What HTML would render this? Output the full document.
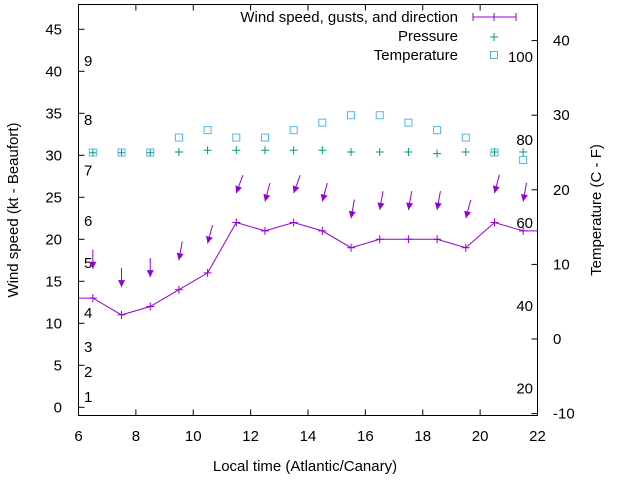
<!DOCTYPE html>
<html><head><meta charset="utf-8"><style>
body{margin:0;background:#fff}
svg text{font-family:"Liberation Sans",sans-serif;font-size:15px;fill:#000}
</style></head><body>
<svg id="chart" width="640" height="480" xmlns="http://www.w3.org/2000/svg">
<rect width="640" height="480" fill="#fff"/>
<g id="axes"></g>
<g id="marks"></g>
<g id="legend">
<text x="458" y="22" text-anchor="end">Wind speed, gusts, and direction</text>
<line x1="473" y1="17" x2="516" y2="17" stroke="#9400d3"/>
<line x1="494" y1="13" x2="494" y2="21" stroke="#9400d3"/>
<line x1="473" y1="13" x2="473" y2="21" stroke="#9400d3"/>
<line x1="516" y1="13" x2="516" y2="21" stroke="#9400d3"/>
<text x="458" y="41" text-anchor="end">Pressure</text>
<path d="M490 37h8M494 33v8" stroke="#009e73"/>
<text x="458" y="60" text-anchor="end">Temperature</text>
<rect x="490.5" y="51.5" width="7" height="7" fill="none" stroke="#56b4e9"/>
</g>
</svg>
<script>
const hours=[6.5,7.5,8.5,9.5,10.5,11.5,12.5,13.5,14.5,15.5,16.5,17.5,18.5,19.5,20.5,21.5];
const windSpeed=[13,11,12,14,16,22,21,22,21,19,20,20,20,19,22,21];
const gusts=[16.5,14.3,15.5,17.5,19.5,25.5,24.5,25.5,24.5,22.5,23.5,23.5,23.5,22.5,25.5,24.5];
const windDir=[0,0,0,10,15,20,15,20,15,10,10,10,10,15,15,10];
const pressure=[30.3,30.3,30.3,30.4,30.6,30.6,30.6,30.6,30.6,30.4,30.4,30.4,30.2,30.4,30.4,30.4];
const temperature=[25,25,25,27,28,27,27,28,29,30,30,29,28,27,25,24];
const xTicks=[6,8,10,12,14,16,18,20,22];
const yTicks=[0,5,10,15,20,25,30,35,40,45];
const y2Ticks=[-10,0,10,20,30,40];
const beaufort=[1,2,3,4,5,6,7,8,9];
const beaufortAt=[1.2,4.2,7.2,11.2,17.2,22.2,28.2,34.2,41.2];
const fahr=[20,40,60,80,100];
const L=78.5,R=537.5,T=4.5,B=415.5;
const X=v=>L+(v-6)/16*(R-L);
const Y=v=>407.3-v*(407.3-29.3)/45;
const Y2=v=>339-v*7.46;
const NS='http://www.w3.org/2000/svg';
function mk(p,t,a){const e=document.createElementNS(NS,t);for(const k in a)e.setAttribute(k,a[k]);p.appendChild(e);return e;}
const ax=document.getElementById('axes'),mg=document.getElementById('marks');
const fr=mk(ax,'rect',{x:L,y:T,width:R-L,height:B-T,fill:'none',stroke:'#000'});


xTicks.forEach(v=>{const x=X(v);
 const t=mk(ax,'path',{d:`M${x} ${B}v-6M${x} ${T}v6`,stroke:'#000'});
 
 
 const l=mk(ax,'text',{x:x,y:441,'text-anchor':'middle'});l.textContent=v;
 
 });
yTicks.forEach(v=>{const y=Y(v);
 const t=mk(ax,'path',{d:`M${L} ${y}h6`,stroke:'#000'});
 
 
 const l=mk(ax,'text',{x:62,y:y+5,'text-anchor':'end'});l.textContent=v;
 
 });
y2Ticks.forEach(v=>{const y=Y2(v);
 const t=mk(ax,'path',{d:`M${R} ${y}h-6`,stroke:'#000'});
 
 
 const l=mk(ax,'text',{x:553,y:y+5,'text-anchor':'start'});l.textContent=v;
 
 });
beaufort.forEach((b,i)=>{const l=mk(ax,'text',{x:84,y:Y(beaufortAt[i])+5});l.textContent=b;
 
 });
fahr.forEach(f=>{const c=(f-32)*5/9;const l=mk(ax,'text',{x:533,y:Y2(c)+5,'text-anchor':'end'});l.textContent=f;
 
 });
const xt=mk(ax,'text',{x:305,y:471,'text-anchor':'middle'});xt.textContent='Local time (Atlantic/Canary)';


const yt=mk(ax,'text',{transform:'translate(18,210) rotate(-90)','text-anchor':'middle'});yt.textContent='Wind speed (kt - Beaufort)';


const y2t=mk(ax,'text',{transform:'translate(601,210) rotate(-90)','text-anchor':'middle'});y2t.textContent='Temperature (C - F)';


// wind line
let d=`M${L} ${Y(windSpeed[0])}`;
hours.forEach((h,i)=>d+=`L${X(h)} ${Y(windSpeed[i])}`);
d+=`L${R} ${Y(windSpeed[windSpeed.length-1])}`;
const wl=mk(mg,'path',{d:d,fill:'none',stroke:'#9400d3'});


hours.forEach((h,i)=>{const x=X(h),y=Y(windSpeed[i]);
 const p=mk(mg,'path',{d:`M${x-4} ${y}h8M${x} ${y-4}v8`,stroke:'#9400d3'});
 
 
 // gust arrow
 const hx=x,hy=Y(gusts[i]);const a=windDir[i]*Math.PI/180,len=19;
 const tx=hx+len*Math.sin(a),ty=hy-len*Math.cos(a);
 const ux=(hx-tx)/len,uy=(hy-ty)/len;
 const bx=hx-ux*7,by=hy-uy*7;
 const ar=mk(mg,'g',{});
 
 
 mk(ar,'line',{x1:tx,y1:ty,x2:hx,y2:hy,stroke:'#9400d3'});
 mk(ar,'path',{d:`M${hx} ${hy}L${bx-uy*3.5} ${by+ux*3.5}L${bx+uy*3.5} ${by-ux*3.5}Z`,fill:'#9400d3'});
 const pp=mk(mg,'path',{d:`M${x-4} ${Y(pressure[i])}h8M${x} ${Y(pressure[i])-4}v8`,stroke:'#009e73'});
 
 
 const tp=mk(mg,'rect',{x:x-3.5,y:Y2(temperature[i])-3.5,width:7,height:7,fill:'none',stroke:'#56b4e9'});
 
 });
</script>
</body></html>
